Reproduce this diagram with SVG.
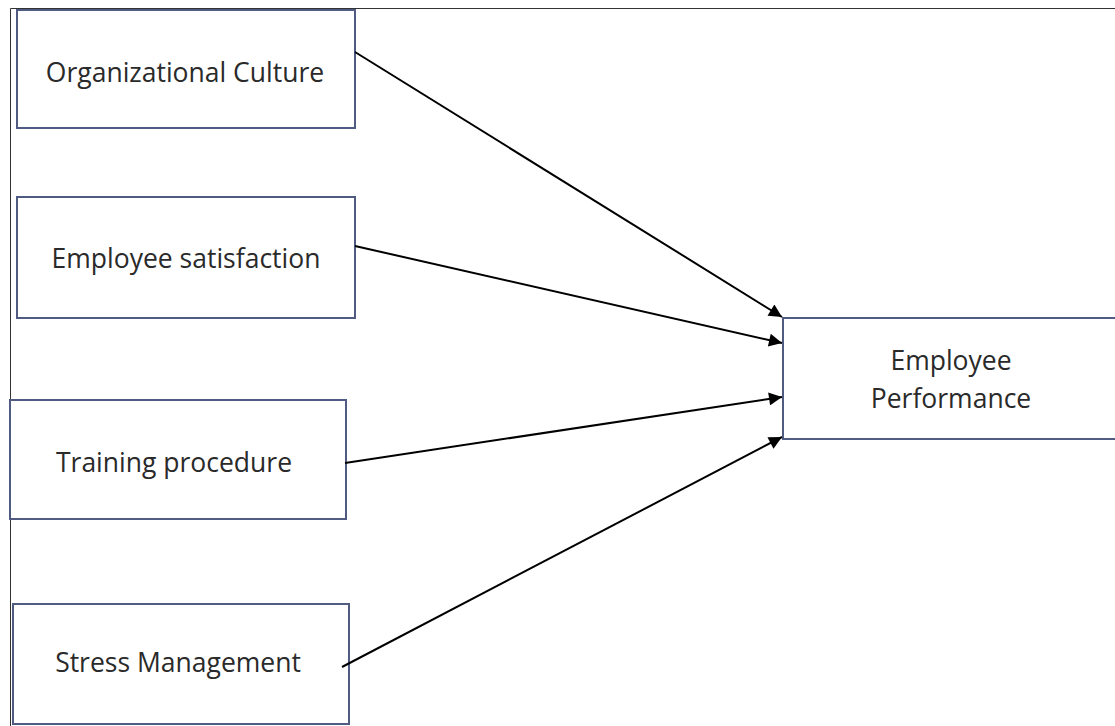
<svg xmlns="http://www.w3.org/2000/svg" width="1115" height="726" viewBox="0 0 1115 726">
<defs>
<marker id="ah" viewBox="0 0 10 10" refX="10" refY="5" markerWidth="8" markerHeight="6.5" markerUnits="strokeWidth" orient="auto">
<path d="M0,0 L10,5 L0,10 z" fill="#000"/>
</marker>
</defs>
<style>
.box{fill:#fff;stroke:#4f5b82;stroke-width:2}
.lbl{font-family:"Open Sans","Liberation Sans",sans-serif;font-size:26.5px;fill:#2a2a2a;text-anchor:middle}
.con{stroke:#000;stroke-width:2;fill:none;marker-end:url(#ah)}
.frame{stroke:#333;stroke-width:1;fill:none}
</style>
<rect width="1115" height="726" fill="#fff"/>
<path class="frame" d="M10.5,726 V8.5 H1115"/>
<g id="n1"><rect class="box" x="17" y="10" width="338" height="118"/><text class="lbl" x="185" y="82">Organizational Culture</text></g>
<g id="n2"><rect class="box" x="17" y="197" width="338" height="121"/><text class="lbl" x="186" y="268">Employee satisfaction</text></g>
<g id="n3"><rect class="box" x="10" y="400" width="336" height="119"/><text class="lbl" x="174" y="472">Training procedure</text></g>
<g id="n4"><rect class="box" x="13" y="604" width="336" height="120"/><text class="lbl" x="178" y="672">Stress Management</text></g>
<g id="n5"><rect class="box" x="783" y="318" width="345" height="121"/><text class="lbl" x="951" y="370">Employee</text><text class="lbl" x="951" y="408">Performance</text></g>
<g id="connectors">
<line class="con" x1="355" y1="52" x2="782" y2="317"/>
<line class="con" x1="355" y1="246" x2="782" y2="343"/>
<line class="con" x1="345" y1="463" x2="782" y2="397"/>
<line class="con" x1="342" y1="667" x2="782" y2="437"/>
</g>
</svg>
